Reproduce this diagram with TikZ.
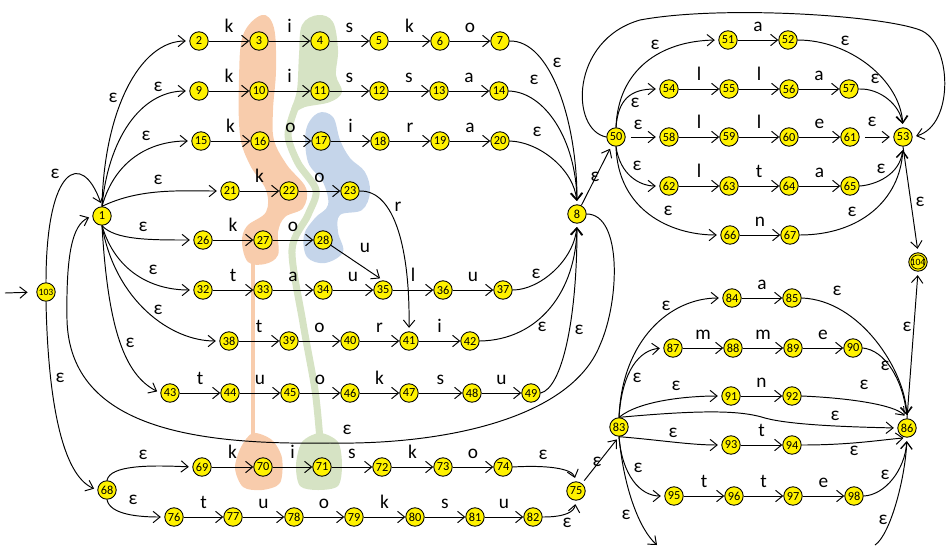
\documentclass[tikz,border=0pt]{standalone}
\usepackage{fontspec}
\setmainfont{Carlito}
\usetikzlibrary{arrows.meta}
\definecolor{blobO}{HTML}{F8CCAC}
\definecolor{blobG}{HTML}{D6E3C4}
\definecolor{blobB}{HTML}{C5D5EA}
\begin{document}
\begin{tikzpicture}[x=0.02cm,y=-0.02cm,
 st/.style={circle,draw=black,line width=0.5pt,fill=yellow,minimum size=10.5pt,inner sep=0pt,font=\fontsize{7}{7}\selectfont},
 ar/.style={line width=0.55pt,-{Straight Barb[length=4pt,width=6.5pt]}},
 ea/.style={ar,shorten >=2pt},
 lab/.style={anchor=base,yshift=5pt,inner sep=0pt,font=\fontsize{11}{12}\selectfont},
 eps/.style={inner sep=0pt,font=\fontsize{11}{12}\selectfont}]
\useasboundingbox (0,0) rectangle (950,559);
% ---- blobs
\fill[blobO] plot[smooth cycle, tension=0.6] coordinates {(262,15) (274,28) (276,70) (273,110) (274,140) (287,165) (306,188) (303,208) (285,217) (278,232) (278,255) (265,264) (248,262) (242,242) (247,226) (266,212) (266,190) (250,165) (240,135) (239,80) (243,35)};
\draw[blobO, line width=2.5pt, line cap=round] (253,258) -- (253,440);
\fill[blobO] plot[smooth cycle] coordinates {(253,433) (272,440) (282,458) (280,483) (262,490) (243,487) (235,468) (241,447)};
\fill[blobG] plot[smooth cycle, tension=0.6] coordinates {(318,15) (333,22) (338,50) (336,75) (342,92) (330,102) (305,107) (291,113) (297,90) (299,55) (302,25)};
\draw[blobG, line width=4pt, line cap=round, line join=round] plot[smooth] coordinates {(296,106) (288,135) (298,163) (316,190) (308,215) (292,250) (303,323) (315,390) (320,440)};
\fill[blobG] plot[smooth cycle] coordinates {(320,433) (338,442) (342,465) (338,486) (318,490) (300,486) (296,465) (302,442)};
\fill[blobB] plot[smooth cycle, tension=0.6] coordinates {(318,113) (333,117) (340,140) (350,158) (365,172) (370,192) (362,210) (340,215) (338,232) (343,252) (325,263) (307,257) (304,235) (315,218) (328,205) (323,182) (308,162) (306,130)};
% ---- states
\foreach \n/\x/\y in {1/102/216, 2/199/41, 3/259/41, 4/320/41, 5/379/41, 6/440/41, 7/500/41,
 9/199/91, 10/259/91, 11/320/91, 12/379/91, 13/439/91, 14/499/91,
 15/201/141, 16/260/141, 17/321/141, 18/380/141, 19/440/141, 20/500/141,
 21/230/191, 22/289/191, 23/350/191, 26/203/240, 27/263/240, 28/323/240,
 32/203/290, 33/263/290, 34/323/290, 35/383/290, 36/443/290, 37/503/290,
 38/229/341, 39/289/341, 40/350/341, 41/409/341, 42/470/341,
 43/170/393, 44/230/393, 45/290/393, 46/350/393, 47/409/393, 48/472/393, 49/531/393,
 8/577/214, 50/616/137, 51/728/40, 52/788/40, 53/903/137,
 54/669/89, 55/729/89, 56/789/89, 57/849/89,
 58/669/137, 59/729/137, 60/789/137, 61/850/137,
 62/669/186, 63/729/186, 64/789/186, 65/850/186, 66/730/235, 67/790/235,
 68/107/490, 69/202/467, 70/263/467, 71/322/467, 72/382/467, 73/443/467, 74/503/467,
 76/174/517, 77/233/517, 78/294/517, 79/354/517, 80/415/517, 81/475/517, 82/533/517,
 75/576/491, 83/619/427, 86/907/428,
 84/732/298, 85/792/298, 87/673/348, 88/733/348, 89/793/348, 90/853/348,
 91/731/396, 92/792/396, 93/731/445, 94/792/445, 95/674/496, 96/734/496, 97/793/496, 98/854/496}
 \node[st] (n\n) at (\x,\y) {\n};
\node[st,font=\fontsize{5.5}{6}\selectfont] (n103) at (46,292) {103};
\node[st,font=\fontsize{5.5}{6}\selectfont] (n104) at (918,262) {104};
\node[circle,draw,line width=0.4pt,minimum size=8pt,inner sep=0pt] (n104i) at (n104) {};
% ---- labelled chains
\foreach \a/\b/\t in {2/3/k,3/4/i,4/5/s,5/6/k,6/7/o,
 9/10/k,10/11/i,11/12/s,12/13/s,13/14/a,
 15/16/k,16/17/o,17/18/i,18/19/r,19/20/a,
 21/22/k,22/23/o,26/27/k,27/28/o,
 32/33/t,33/34/a,34/35/u,35/36/l,36/37/u,
 38/39/t,39/40/o,40/41/r,41/42/i,
 43/44/t,44/45/u,45/46/o,46/47/k,47/48/s,48/49/u,
 69/70/k,70/71/i,71/72/s,72/73/k,73/74/o,
 76/77/t,77/78/u,78/79/o,79/80/k,80/81/s,81/82/u,
 51/52/a,54/55/l,55/56/l,56/57/a,58/59/l,59/60/l,60/61/e,62/63/l,63/64/t,64/65/a,66/67/n,
 84/85/a,87/88/m,88/89/m,89/90/e,91/92/n,93/94/t,95/96/t,96/97/t,97/98/e}
 \draw[ar] (n\a) -- node[lab] (t\a) {\t} (n\b);
\draw[ea] (n23.east) .. controls (395,190) and (410,250) .. (n41.north);
\node[eps] (r23) at (398,207) {r};
\draw[ea] (n28) -- (n35.north);
\node[eps] (u28) at (365,248) {u};
% ---- epsilon edges, left part
\coordinate (s0) at (5,293);
\draw[ar, shorten >=5pt] (s0) -- (n103.west);
\draw[ea] (n103.north) .. controls (46,165) and (82,150) .. (n1.north);
\draw[ea] (n103.south) .. controls (48,400) and (62,475) .. (n68.west);
\draw[ea] (n1.north) .. controls (104,110) and (140,41) .. (n2.west);
\draw[ea] (n1.north) .. controls (108,140) and (140,91) .. (n9.west);
\draw[ea] (n1.north) .. controls (115,160) and (150,141) .. (n15.west);
\draw[ea] (n1.north) .. controls (140,188) and (180,191) .. (n21.west);
\draw[ea] (n1.south) .. controls (115,240) and (150,240) .. (n26.west);
\draw[ea] (n1.south) .. controls (115,270) and (150,290) .. (n32.west);
\draw[ea] (n1.south) .. controls (115,300) and (170,341) .. (n38.west);
\draw[ea] (n1.south) .. controls (108,330) and (125,375) .. (n43.west);
\draw[ea] (n68.north) .. controls (110,465) and (150,465) .. (n69.west);
\draw[ea] (n68.south) .. controls (110,515) and (140,517) .. (n76.west);
\draw[ea] (n7.east) .. controls (550,40) and (577,120) .. (n8.north);
\draw[ea] (n14.east) .. controls (545,92) and (576,140) .. (n8.north);
\draw[ea] (n20.east) .. controls (540,142) and (574,170) .. (n8.north);
\draw[ea] (n37.east) .. controls (540,290) and (574,260) .. (n8.south);
\draw[ea] (n42.east) .. controls (540,340) and (576,290) .. (n8.south);
\draw[ea] (n49.east) .. controls (562,388) and (577,320) .. (n8.south);
\draw[ea] (n8.east) .. controls (622,214) and (620,300) .. (600,345) .. controls (570,420) and (440,445) .. (330,443) .. controls (200,445) and (70,430) .. (67,320) .. controls (66,255) and (72,225) .. (n1.west);
\draw[ea] (n8) -- (n50);
\draw[ea] (n74.east) .. controls (545,465) and (572,468) .. (n75.north);
\draw[ea] (n82.east) .. controls (565,517) and (574,512) .. (n75.south);
\draw[ea, shorten <=2pt] (n75) -- (n83.south);
% ---- upper right block
\draw[ea] (n50.north) .. controls (618,70) and (660,41) .. (n51.west);
\draw[ea] (n50.north) .. controls (618,100) and (630,89) .. (n54.west);
\draw[ea, shorten <=3pt] (n50.east) -- (n58.west);
\draw[ea] (n50.south) .. controls (620,175) and (640,186) .. (n62.west);
\draw[ea] (n50.south) .. controls (618,210) and (670,235) .. (n66.west);
\draw[ea] (n52.east) .. controls (850,40) and (900,80) .. (n53.north);
\draw[ea] (n57.east) .. controls (880,88) and (900,105) .. (n53.north);
\draw[ea, shorten <=3pt] (n61) -- (n53);
\draw[ea] (n65.east) .. controls (875,185) and (900,175) .. (n53.south);
\draw[ea] (n67.east) .. controls (860,235) and (900,200) .. (n53.south);
\draw[ea] (n50.west) .. controls (570,130) and (570,40) .. (640,20) .. controls (720,5) and (880,15) .. (920,30) .. controls (952,42) and (955,125) .. (n53.east);
\draw[ea] (n53.south) -- (n104.north);
% ---- lower right block
\draw[ea] (n83.north) .. controls (622,340) and (670,298) .. (n84.west);
\draw[ea] (n83.north) .. controls (622,370) and (640,350) .. (n87.west);
\draw[ea] (n83.north) .. controls (640,400) and (690,396) .. (n91.west);
\draw[ea] (n83.north) .. controls (700,410) and (740,410) .. (765,418) .. controls (790,425) and (850,427) .. (n86.west);
\draw[ea] (n83.south) .. controls (660,440) and (690,445) .. (n93.west);
\draw[ea] (n83.south) .. controls (622,475) and (640,496) .. (n95.west);
\coordinate (dn) at (657,545);
\draw[ar] (n83.south) .. controls (624,490) and (640,530) .. (dn);
\draw[ea] (n85.east) .. controls (860,300) and (905,370) .. (n86.north);
\draw[ea] (n90.east) .. controls (885,350) and (903,380) .. (n86.north);
\draw[ea] (n92.east) .. controls (850,398) and (895,405) .. (n86.north);
\draw[ea] (n94.east) .. controls (850,445) and (880,440) .. (n86.south);
\draw[ea] (n98.east) .. controls (885,495) and (905,470) .. (n86.south);
\coordinate (up) at (875,545);
\draw[ea] (up) .. controls (890,535) and (905,480) .. (n86.south);
\draw[ea] (n86.north) -- (n104.south);
% ---- epsilon labels
\foreach \x/\y [count=\i] in {113/98, 158/87, 146/136, 158/180, 143/227, 153/270, 158/310, 130/343, 55/174, 60/378, 143/455, 133/500, 557/63, 534/80, 537/132, 536/274, 542/327, 579/330, 347/430, 595/177, 543/455, 567/523, 597/462, 655/45, 635/103, 638/125, 637/166, 668/211, 845/41, 875/79, 872/122, 881/169, 852/212, 920/202, 666/306, 637/378, 676/386, 835/416, 673/433, 638/468, 626/515, 837/291, 885/366, 864/385, 854/451, 885/475, 883/520, 907/327}
 \node[eps] (e\i) at (\x,\y) {ε};
\end{tikzpicture}
\end{document}
